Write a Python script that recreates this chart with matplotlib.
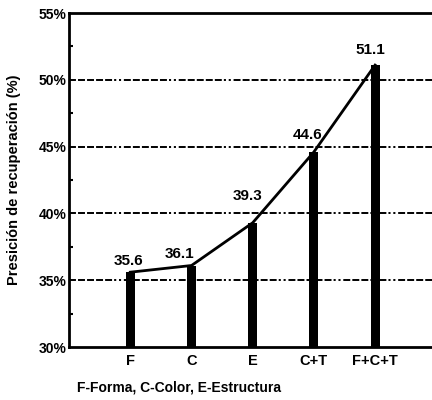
import matplotlib
matplotlib.use("Agg")
import matplotlib.pyplot as plt
from matplotlib.ticker import MultipleLocator, FuncFormatter

categories = ["F", "C", "E", "C+T", "F+C+T"]
precision = [35.6, 36.1, 39.3, 44.6, 51.1]

# label nudges (layout only)
label_dx = [-0.03, -0.2, -0.09, -0.11, -0.08]
label_dy = [0.84, 0.86, 2.0, 1.27, 1.13]

plt.rcParams["font.family"] = ["Liberation Sans", "DejaVu Sans"]
plt.rcParams["font.weight"] = "bold"
plt.rcParams["lines.scale_dashes"] = False

fig = plt.figure(figsize=(4.32, 4.0), dpi=100)
ax = fig.add_axes([0.16, 0.1325, 0.84, 0.835])

x = list(range(len(categories)))
ax.bar(x, [p - 30 for p in precision], bottom=30, width=0.15, color="black", zorder=3)
ax.plot(x, precision, color="black", linewidth=2, zorder=4)

for xi, p, dx, dy in zip(x, precision, label_dx, label_dy):
    ax.text(xi + dx, p + dy, f"{p:.1f}", ha="center", va="center",
            fontsize=11, fontweight="bold", zorder=5)

grid_dash = (0, (5, 1.5) * 5 + (1.5, 2, 1.5, 2))
for level in [35, 40, 45, 50]:
    ax.axhline(level, color="black", linewidth=1.4, linestyle=grid_dash, zorder=1)

ax.set_xlim(-1, 4.93)
ax.set_ylim(30, 55)
ax.set_xticks(x)
ax.set_xticklabels(categories, fontsize=10.5, fontweight="bold")
ax.yaxis.set_major_locator(MultipleLocator(5))
ax.yaxis.set_minor_locator(MultipleLocator(2.5))
ax.yaxis.set_major_formatter(FuncFormatter(lambda v, _: f"{v:.0f}%"))
for lbl in ax.get_yticklabels():
    lbl.set_fontweight("bold")
    lbl.set_fontsize(10)
ax.tick_params(axis="x", length=0, pad=5)
ax.tick_params(axis="y", which="major", length=0, pad=2)
ax.tick_params(axis="y", which="minor", direction="in", length=3, width=1.5)

ax.spines["right"].set_visible(False)
ax.spines["bottom"].set_visible(False)
ax.spines["left"].set_linewidth(2)
ax.spines["top"].set_linewidth(2)
ax.axhline(30, color="black", linewidth=2, clip_on=False, zorder=2)

ax.set_ylabel("Presición de recuperación (%)", fontsize=10.5, fontweight="bold")
ax.yaxis.set_label_coords(-0.132, 0.5)
fig.text(0.178, 0.03, "F-Forma, C-Color, E-Estructura", fontsize=10,
         fontweight="bold", va="center")

fig.savefig("out.png", dpi=100)
